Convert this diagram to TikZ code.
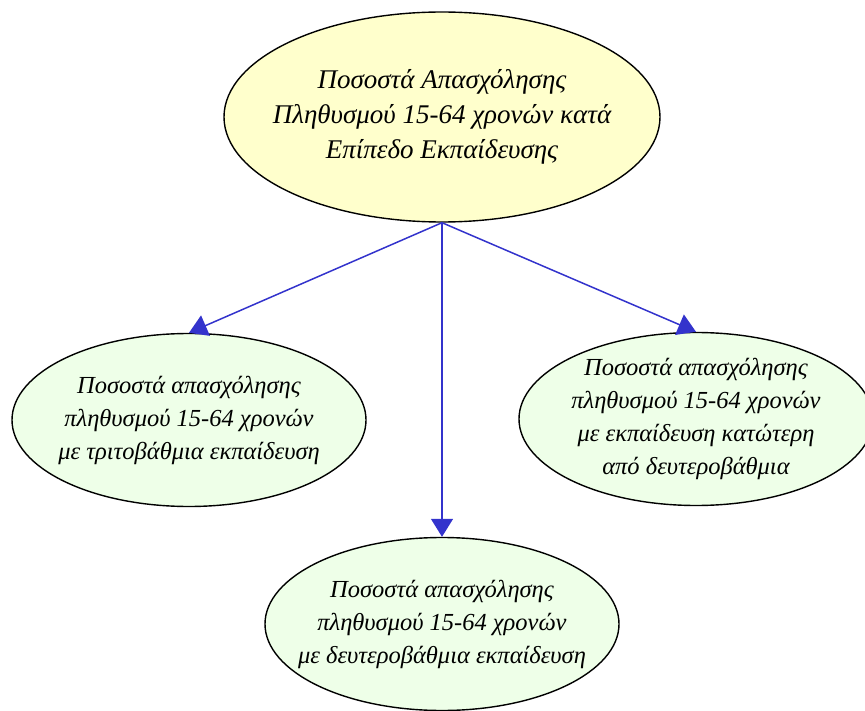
\documentclass[tikz,border=0pt]{standalone}
\usepackage{fontspec}
\setmainfont{Liberation Serif}
\usetikzlibrary{shapes.geometric,arrows.meta}
\definecolor{topfill}{HTML}{FFFFCC}
\definecolor{leaffill}{HTML}{EEFFE8}
\definecolor{edgeblue}{HTML}{3333CC}
\begin{document}
\begin{tikzpicture}[x=1pt,y=-1pt,
  topic/.style={ellipse, draw=black, line width=1.4pt, fill=topfill,
    inner xsep=-60pt, inner ysep=-20pt,
    minimum width=436pt, minimum height=210pt, align=center,
    font=\fontsize{27}{35}\selectfont\itshape},
  leaf/.style={ellipse, draw=black, line width=1.4pt, fill=leaffill,
    inner xsep=-60pt, inner ysep=-20pt,
    minimum width=354pt, minimum height=173pt, align=center,
    font=\fontsize{24.5}{33}\selectfont\itshape},
  edge/.style={draw=edgeblue, line width=1.5pt, -{Triangle[length=18pt,width=22pt]}}]
\useasboundingbox (0,0) rectangle (865,711);
\coordinate (T) at (442,117);
\coordinate (L) at (189,420);
\coordinate (M) at (442,624);
\coordinate (R) at (696,419);
\node[topic] (top) at (T) {Ποσοστά Απασχόλησης\\Πληθυσμού 15-64 χρονών κατά\\Επίπεδο Εκπαίδευσης};
\node[leaf] (left) at (L) {Ποσοστά απασχόλησης\\πληθυσμού 15-64 χρονών\\με τριτοβάθμια εκπαίδευση};
\node[leaf] (mid) at (M) {Ποσοστά απασχόλησης\\πληθυσμού 15-64 χρονών\\με δευτεροβάθμια εκπαίδευση};
\node[leaf] (right) at (R) {Ποσοστά απασχόλησης\\πληθυσμού 15-64 χρονών\\με εκπαίδευση κατώτερη\\από δευτεροβάθμια};
\draw[edge] (top.south) -- (left.north);
\draw[edge] (top.south) -- (mid.north);
\draw[edge] (top.south) -- (right.north);
\end{tikzpicture}
\end{document}
